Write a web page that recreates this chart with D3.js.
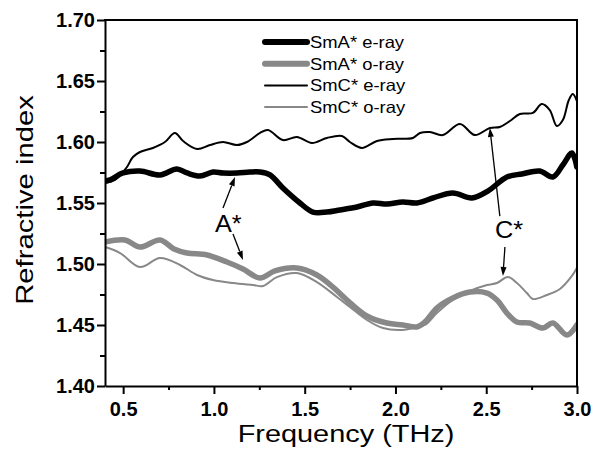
<!DOCTYPE html>
<html>
<head>
<meta charset="utf-8">
<script src="https://cdn.jsdelivr.net/npm/d3@7"></script>
<style>
  html, body { margin: 0; padding: 0; background: #fff; }
  svg { display: block; font-family: "Liberation Sans", Arial, Helvetica, sans-serif; }
</style>
</head>
<body>
<svg id="chart" width="594" height="452"></svg>
<script>
// ---------- data ----------
const seriesNames = ["SmA* e-ray", "SmA* o-ray", "SmC* e-ray", "SmC* o-ray"];

const smAeFreq = [0.400,0.428,0.499,0.593,0.703,0.796,0.852,0.923,0.995,1.050,1.127,1.198,1.254,1.309,1.380,1.474,1.545,1.622,1.694,1.788,1.876,1.953,2.041,2.118,2.206,2.316,2.421,2.509,2.614,2.696,2.795,2.867,2.922,2.972,2.999];
const smAeN    = [1.5680,1.5689,1.5746,1.5762,1.5730,1.5779,1.5746,1.5721,1.5754,1.5746,1.5746,1.5754,1.5754,1.5730,1.5623,1.5500,1.5426,1.5426,1.5443,1.5467,1.5500,1.5492,1.5508,1.5500,1.5541,1.5582,1.5541,1.5598,1.5713,1.5738,1.5762,1.5713,1.5811,1.5910,1.5795];

const smAoFreq = [0.400,0.510,0.593,0.703,0.780,0.852,0.962,1.072,1.160,1.254,1.336,1.457,1.567,1.656,1.733,1.843,1.953,2.041,2.118,2.162,2.228,2.316,2.410,2.504,2.559,2.614,2.669,2.740,2.812,2.867,2.944,2.999];
const smAoN    = [1.5180,1.5197,1.5139,1.5197,1.5123,1.5090,1.5074,1.5016,1.4959,1.4885,1.4943,1.4967,1.4910,1.4811,1.4705,1.4574,1.4516,1.4500,1.4484,1.4525,1.4639,1.4721,1.4770,1.4762,1.4705,1.4598,1.4525,1.4516,1.4475,1.4516,1.4418,1.4500];

const smCeFreq = [0.400,0.455,0.494,0.521,0.554,0.593,0.664,0.730,0.785,0.830,0.907,0.978,1.050,1.127,1.182,1.254,1.298,1.380,1.457,1.540,1.622,1.705,1.749,1.815,1.898,1.986,2.096,2.135,2.190,2.261,2.355,2.437,2.520,2.575,2.630,2.685,2.757,2.806,2.850,2.889,2.922,2.955,2.977,2.999];
const smCeN    = [1.5664,1.5689,1.5746,1.5795,1.5877,1.5918,1.5951,1.6000,1.6074,1.6008,1.5943,1.5975,1.6000,1.5975,1.6000,1.6074,1.6098,1.6016,1.6041,1.5992,1.6033,1.6049,1.6000,1.5951,1.6008,1.6025,1.6033,1.6074,1.6082,1.6057,1.6148,1.6057,1.6115,1.6123,1.6172,1.6230,1.6238,1.6311,1.6262,1.6131,1.6180,1.6344,1.6393,1.6336];

const smCoFreq = [0.400,0.483,0.593,0.703,0.813,0.907,0.995,1.105,1.215,1.270,1.347,1.457,1.567,1.678,1.749,1.843,1.931,2.024,2.096,2.162,2.228,2.316,2.410,2.504,2.559,2.619,2.669,2.724,2.757,2.834,2.906,2.972,2.999];
const smCoN    = [1.5139,1.5090,1.4975,1.5049,1.4992,1.4910,1.4869,1.4844,1.4828,1.4820,1.4893,1.4926,1.4852,1.4730,1.4648,1.4541,1.4475,1.4459,1.4475,1.4500,1.4598,1.4705,1.4779,1.4828,1.4844,1.4893,1.4844,1.4762,1.4713,1.4746,1.4795,1.4902,1.4967];

const yMajorTicks = [1.40,1.45,1.50,1.55,1.60,1.65,1.70];
const yMinorTicks = [1.425,1.475,1.525,1.575,1.625,1.675];
const xMajorTicks = [0.5,1.0,1.5,2.0,2.5,3.0];
const xMinorTicks = [0.75,1.25,1.75,2.25,2.75];

// annotations: label position and arrows (data coordinates)
const annoLabels = [
  {text: "A*", f: 1.006, n: 1.5262},
  {text: "C*", f: 2.548, n: 1.5213}
];
const annoArrows = [
  {f0: 1.050, n0: 1.5459, f1: 1.116, n1: 1.5713},
  {f0: 1.105, n0: 1.5246, f1: 1.160, n1: 1.5033},
  {f0: 2.575, n0: 1.5393, f1: 2.520, n1: 1.6115},
  {f0: 2.603, n0: 1.5139, f1: 2.592, n1: 1.4902}
];

// ---------- layout ----------
const W = 594, H = 452;
const margin = {left: 105, right: 17, top: 20, bottom: 66};
const svg = d3.select("#chart");

const x = d3.scaleLinear().domain([0.4, 3.0]).range([margin.left, W - margin.right]);
const y = d3.scaleLinear().domain([1.40, 1.70]).range([H - margin.bottom, margin.top]);

const styles = [
  {color: "#000000", width: 5.5},
  {color: "#888888", width: 5.5},
  {color: "#000000", width: 2},
  {color: "#888888", width: 2}
];
const series = [
  smAeFreq.map((f, i) => [f, smAeN[i]]),
  smAoFreq.map((f, i) => [f, smAoN[i]]),
  smCeFreq.map((f, i) => [f, smCeN[i]]),
  smCoFreq.map((f, i) => [f, smCoN[i]])
];

const line = d3.line()
  .x(d => x(d[0]))
  .y(d => y(d[1]))
  .curve(d3.curveCatmullRom.alpha(0.5));

svg.append("defs").append("clipPath").attr("id", "plotclip")
  .append("rect")
  .attr("x", x(0.4)).attr("y", y(1.70))
  .attr("width", x(3.0) - x(0.4)).attr("height", y(1.40) - y(1.70));

const plot = svg.append("g").attr("clip-path", "url(#plotclip)");
series.forEach((s, i) => {
  plot.append("path")
    .attr("d", line(s))
    .attr("fill", "none")
    .attr("stroke", styles[i].color)
    .attr("stroke-width", styles[i].width)
    .attr("stroke-linejoin", "round")
    .attr("stroke-linecap", "round");
});

// ---------- axes ----------
const axisStyle = g => {
  g.selectAll("path, line").attr("stroke", "#000").attr("stroke-width", 2);
  g.selectAll("text").attr("fill", "#000").attr("font-size", 20).attr("font-weight", "bold")
    .attr("font-family", "'Liberation Sans', Arial, Helvetica, sans-serif");
};

svg.append("g")
  .attr("transform", `translate(${margin.left},0)`)
  .call(d3.axisLeft(y).tickValues(yMajorTicks).tickFormat(d3.format(".2f")).tickSize(8).tickSizeOuter(0).tickPadding(2))
  .call(axisStyle);
svg.append("g")
  .attr("transform", `translate(${margin.left},0)`)
  .call(d3.axisLeft(y).tickValues(yMinorTicks).tickFormat("").tickSize(5).tickSizeOuter(0))
  .call(g => g.select(".domain").remove())
  .call(axisStyle);

svg.append("g")
  .attr("transform", `translate(0,${H - margin.bottom})`)
  .call(d3.axisBottom(x).tickValues(xMajorTicks).tickFormat(d3.format(".1f")).tickSize(8).tickSizeOuter(0).tickPadding(8))
  .call(axisStyle);
svg.append("g")
  .attr("transform", `translate(0,${H - margin.bottom})`)
  .call(d3.axisBottom(x).tickValues(xMinorTicks).tickFormat("").tickSize(4).tickSizeOuter(0))
  .call(g => g.select(".domain").remove())
  .call(axisStyle);

// frame top and right
svg.append("line")
  .attr("x1", x(0.4) - 1).attr("x2", x(3.0) + 1).attr("y1", y(1.70)).attr("y2", y(1.70))
  .attr("stroke", "#000").attr("stroke-width", 2);
svg.append("line")
  .attr("x1", x(3.0)).attr("x2", x(3.0)).attr("y1", y(1.70)).attr("y2", y(1.40) + 1)
  .attr("stroke", "#000").attr("stroke-width", 2);

// axis titles
svg.append("text")
  .attr("transform", `translate(${(x(0.4) + x(3.0)) / 2 + 5},442) scale(1.23,1)`)
  .attr("text-anchor", "middle")
  .attr("font-size", 23.5)
  .attr("fill", "#000")
  .text("Frequency (THz)");
svg.append("text")
  .attr("transform", `translate(33,${(y(1.40) + y(1.70)) / 2 - 3}) rotate(-90) scale(1.245,1)`)
  .attr("text-anchor", "middle")
  .attr("font-size", 23.5)
  .attr("fill", "#000")
  .text("Refractive index");

// ---------- legend ----------
const legend = svg.append("g").attr("transform", "translate(265,42)");
seriesNames.forEach((name, i) => {
  const g = legend.append("g").attr("transform", `translate(0,${i * 21.7})`);
  g.append("line")
    .attr("x1", 0).attr("x2", 42).attr("y1", 0).attr("y2", 0)
    .attr("stroke", styles[i].color)
    .attr("stroke-width", i < 2 ? 6 : 2)
    .attr("stroke-linecap", "round");
  g.append("text")
    .attr("transform", "translate(45,6) scale(1.13,1)")
    .attr("font-size", 16.3)
    .attr("fill", "#000")
    .text(name);
});

// ---------- annotations ----------
annoLabels.forEach(a => {
  svg.append("text")
    .attr("transform", `translate(${x(a.f)},${y(a.n)}) scale(1.1,1)`)
    .attr("font-size", 23)
    .attr("fill", "#000")
    .text(a.text);
});

annoArrows.forEach(a => {
  const x0 = x(a.f0), y0 = y(a.n0), x1 = x(a.f1), y1 = y(a.n1);
  const ang = Math.atan2(y1 - y0, x1 - x0);
  const L = 9, Wd = 3;
  const bx = x1 - L * Math.cos(ang), by = y1 - L * Math.sin(ang);
  svg.append("line")
    .attr("x1", x0).attr("y1", y0).attr("x2", bx).attr("y2", by)
    .attr("stroke", "#000").attr("stroke-width", 1.3);
  const px = -Math.sin(ang) * Wd, py = Math.cos(ang) * Wd;
  svg.append("path")
    .attr("d", `M${x1},${y1}L${bx + px},${by + py}L${bx - px},${by - py}Z`)
    .attr("fill", "#000");
});
</script>
</body>
</html>
